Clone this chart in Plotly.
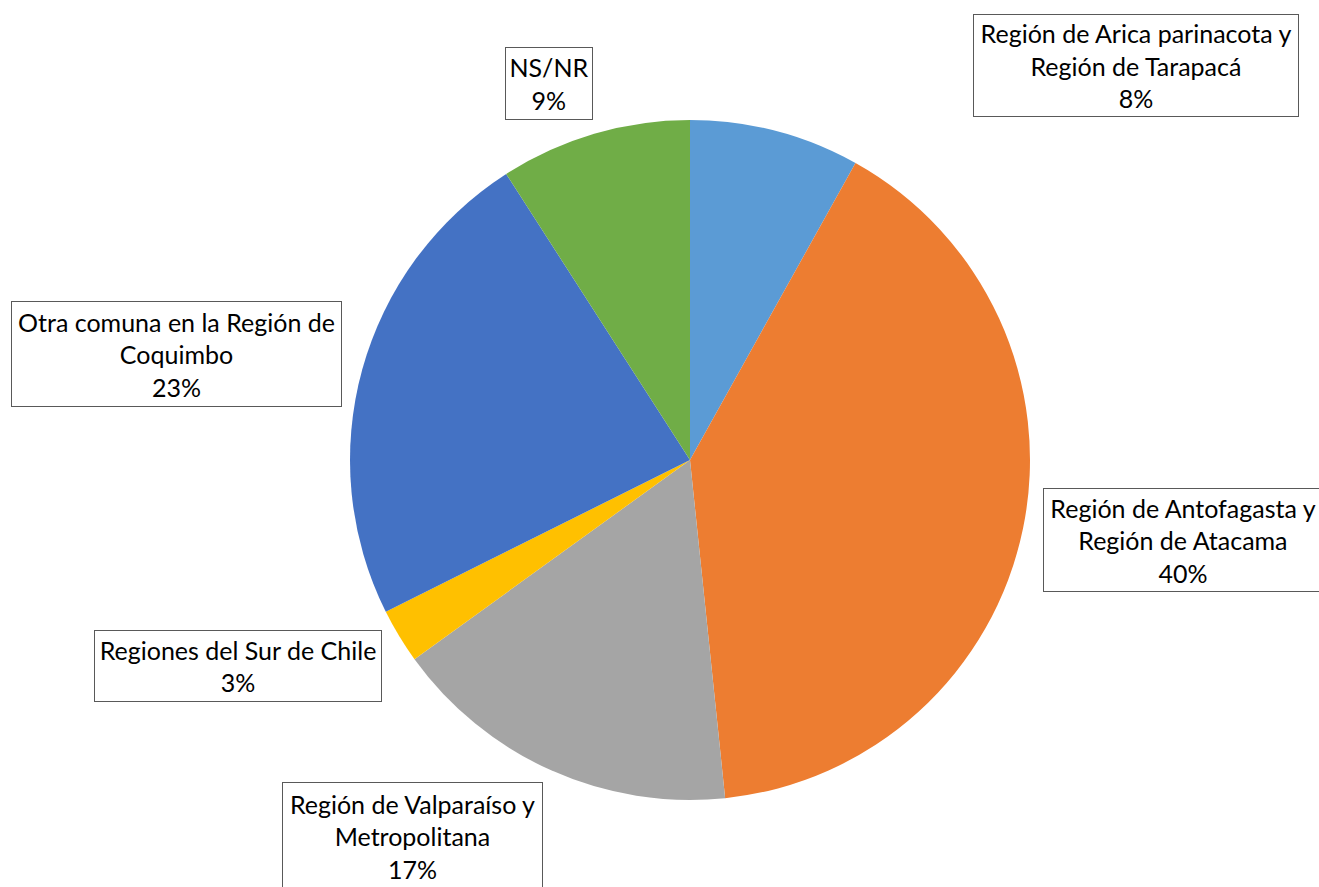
import plotly.graph_objects as go

labels = [
    "Región de Arica parinacota y<br>Región de Tarapacá",
    "Región de Antofagasta y<br>Región de Atacama",
    "Región de Valparaíso y<br>Metropolitana",
    "Regiones del Sur de Chile",
    "Otra comuna en la Región de<br>Coquimbo",
    "NS/NR",
]
values = [8.1, 40.3, 16.7, 2.6, 23.3, 9.1]
colors = ["#5B9BD5", "#ED7D31", "#A5A5A5", "#FFC000", "#4472C4", "#70AD47"]

W, H = 1319, 887
# label box centres / sizes in pixels (layout only)
boxes = [
    (1136, 65.5, 326, 103),
    (1183, 540, 280, 104),
    (412.5, 836, 261, 108),
    (238, 666, 288, 72),
    (176, 354, 331, 106),
    (549, 83.5, 88, 73),
]

cx, cy, r = 690, 460, 340

fig = go.Figure(go.Pie(
    labels=labels,
    values=values,
    sort=False,
    direction="clockwise",
    rotation=0,
    marker=dict(colors=colors, line=dict(width=0)),
    textinfo="none",
    hoverinfo="label+percent",
    showlegend=False,
    domain=dict(x=[(cx - r) / W, (cx + r) / W], y=[(H - cy - r) / H, (H - cy + r) / H]),
))

total = sum(values)
annotations = []
for lab, v, (bx, by, bw, bh) in zip(labels, values, boxes):
    annotations.append(dict(
        x=bx / W, y=1 - by / H, xref="paper", yref="paper",
        xanchor="center", yanchor="middle",
        text=f"{lab}<br>{round(v / total * 100)}%",
        showarrow=False, align="center", valign="middle",
        width=bw - 2, height=bh - 2, borderpad=0,
        bordercolor="#595959", borderwidth=1, bgcolor="white",
        font=dict(family="Lato", size=25, color="#000000"),
    ))

fig.update_layout(
    width=W, height=H,
    margin=dict(l=0, r=0, t=0, b=0),
    paper_bgcolor="white", plot_bgcolor="white",
    annotations=annotations,
)

fig.write_html(
    "out.html",
    config={"displayModeBar": False},
    post_script="document.body.style.margin='0';document.body.style.overflow='hidden';",
)
